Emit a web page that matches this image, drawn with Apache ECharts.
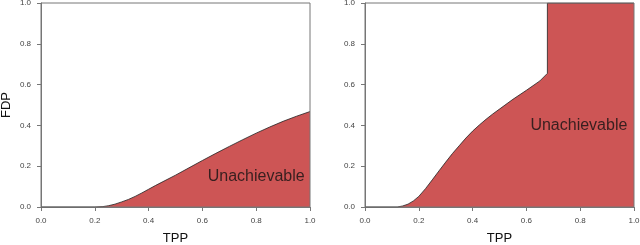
<!DOCTYPE html>
<html>
<head>
<meta charset="utf-8">
<script src="https://cdn.jsdelivr.net/npm/echarts@6/dist/echarts.min.js"></script>
<style>
html,body{margin:0;padding:0;background:#fff;}
#c{width:640px;height:245px;}
</style>
</head>
<body>
<div id="c"></div>
<script>
// Left panel boundary curve (TPP, FDP)
const leftTPP = [0.0, 0.2, 0.23, 0.25, 0.275, 0.3, 0.325, 0.35, 0.375, 0.4, 0.425, 0.45, 0.5, 0.55, 0.6, 0.65, 0.7, 0.75, 0.8, 0.85, 0.9, 0.95, 1.0];
const leftFDP = [0.0, 0.0, 0.002, 0.006, 0.014, 0.025, 0.037, 0.052, 0.069, 0.087, 0.105, 0.122, 0.156, 0.192, 0.228, 0.263, 0.297, 0.33, 0.362, 0.392, 0.42, 0.445, 0.468];
// Right panel boundary curve (TPP, FDP)
const rightTPP = [0.0, 0.12, 0.14, 0.16, 0.18, 0.2, 0.225, 0.25, 0.275, 0.3, 0.325, 0.35, 0.375, 0.4, 0.425, 0.45, 0.475, 0.5, 0.55, 0.6, 0.65, 0.678, 0.678, 1.0];
const rightFDP = [0.0, 0.0, 0.005, 0.014, 0.03, 0.052, 0.09, 0.133, 0.177, 0.22, 0.262, 0.3, 0.338, 0.372, 0.402, 0.43, 0.456, 0.48, 0.528, 0.572, 0.618, 0.655, 1.0, 1.0];
// Annotation positions (data coords)
const labelText = "Unachievable";
const leftLabelPos = [0.80, 0.147];
const rightLabelPos = [0.795, 0.40];
const tickValues = [0.0, 0.2, 0.4, 0.6, 0.8, 1.0];

const zip = (a, b) => a.map((v, i) => [v, b[i]]);
const fill = '#CD5555';
const axisGrey = '#777';

function xAxisCfg(gi) {
  return {
    gridIndex: gi, type: 'value', min: 0, max: 1, interval: 0.2,
    name: 'TPP', nameLocation: 'middle', nameGap: 25,
    nameTextStyle: { fontFamily: 'Liberation Sans', fontSize: 13, color: '#111' },
    axisLine: { show: true, lineStyle: { color: axisGrey, width: 1 } },
    axisTick: { show: true, length: 4, lineStyle: { color: axisGrey } },
    axisLabel: { fontFamily: 'Liberation Sans', fontSize: 8, color: '#444', margin: 10,
      formatter: v => v.toFixed(1) },
    splitLine: { show: false }
  };
}
function yAxisCfg(gi, withName) {
  return {
    gridIndex: gi, type: 'value', min: 0, max: 1, interval: 0.2,
    name: withName ? 'FDP' : '', nameLocation: 'middle', nameGap: 28,
    nameTextStyle: { fontFamily: 'Liberation Sans', fontSize: 13, color: '#111' },
    axisLine: { show: true, lineStyle: { color: axisGrey, width: 1 } },
    axisTick: { show: true, length: 4, lineStyle: { color: axisGrey } },
    axisLabel: { fontFamily: 'Liberation Sans', fontSize: 8, color: '#444', margin: 10,
      formatter: v => v.toFixed(1) },
    splitLine: { show: false }
  };
}
function areaSeries(gi, data) {
  return {
    type: 'line', xAxisIndex: gi, yAxisIndex: gi, data: data,
    showSymbol: false, symbol: 'none', smooth: false, z: 2,
    lineStyle: { color: '#222', width: 0.8 },
    areaStyle: { color: fill, opacity: 1 },
    animation: false
  };
}
function labelSeries(gi, pos) {
  return {
    type: 'scatter', xAxisIndex: gi, yAxisIndex: gi, data: [pos],
    symbolSize: 0, z: 5, silent: true, animation: false,
    label: { show: true, position: 'inside', formatter: labelText,
      fontFamily: 'Liberation Sans', fontSize: 16, color: '#111' }
  };
}

const chart = echarts.init(document.getElementById('c'), null, { renderer: 'canvas' });
chart.setOption({
  animation: false,
  backgroundColor: '#fff',
  grid: [
    { left: 41, right: 330, top: 3, bottom: 38, outerBoundsMode: 'none', containLabel: false, show: true, borderColor: axisGrey, borderWidth: 1, backgroundColor: 'transparent', z: 10 },
    { left: 365, right: 6, top: 3, bottom: 38, outerBoundsMode: 'none', containLabel: false, show: true, borderColor: axisGrey, borderWidth: 1, backgroundColor: 'transparent', z: 10 }
  ],
  xAxis: [xAxisCfg(0), xAxisCfg(1)],
  yAxis: [yAxisCfg(0, true), yAxisCfg(1, false)],
  series: [
    areaSeries(0, zip(leftTPP, leftFDP)),
    areaSeries(1, zip(rightTPP, rightFDP)),
    labelSeries(0, leftLabelPos),
    labelSeries(1, rightLabelPos)
  ]
});
</script>
</body>
</html>
